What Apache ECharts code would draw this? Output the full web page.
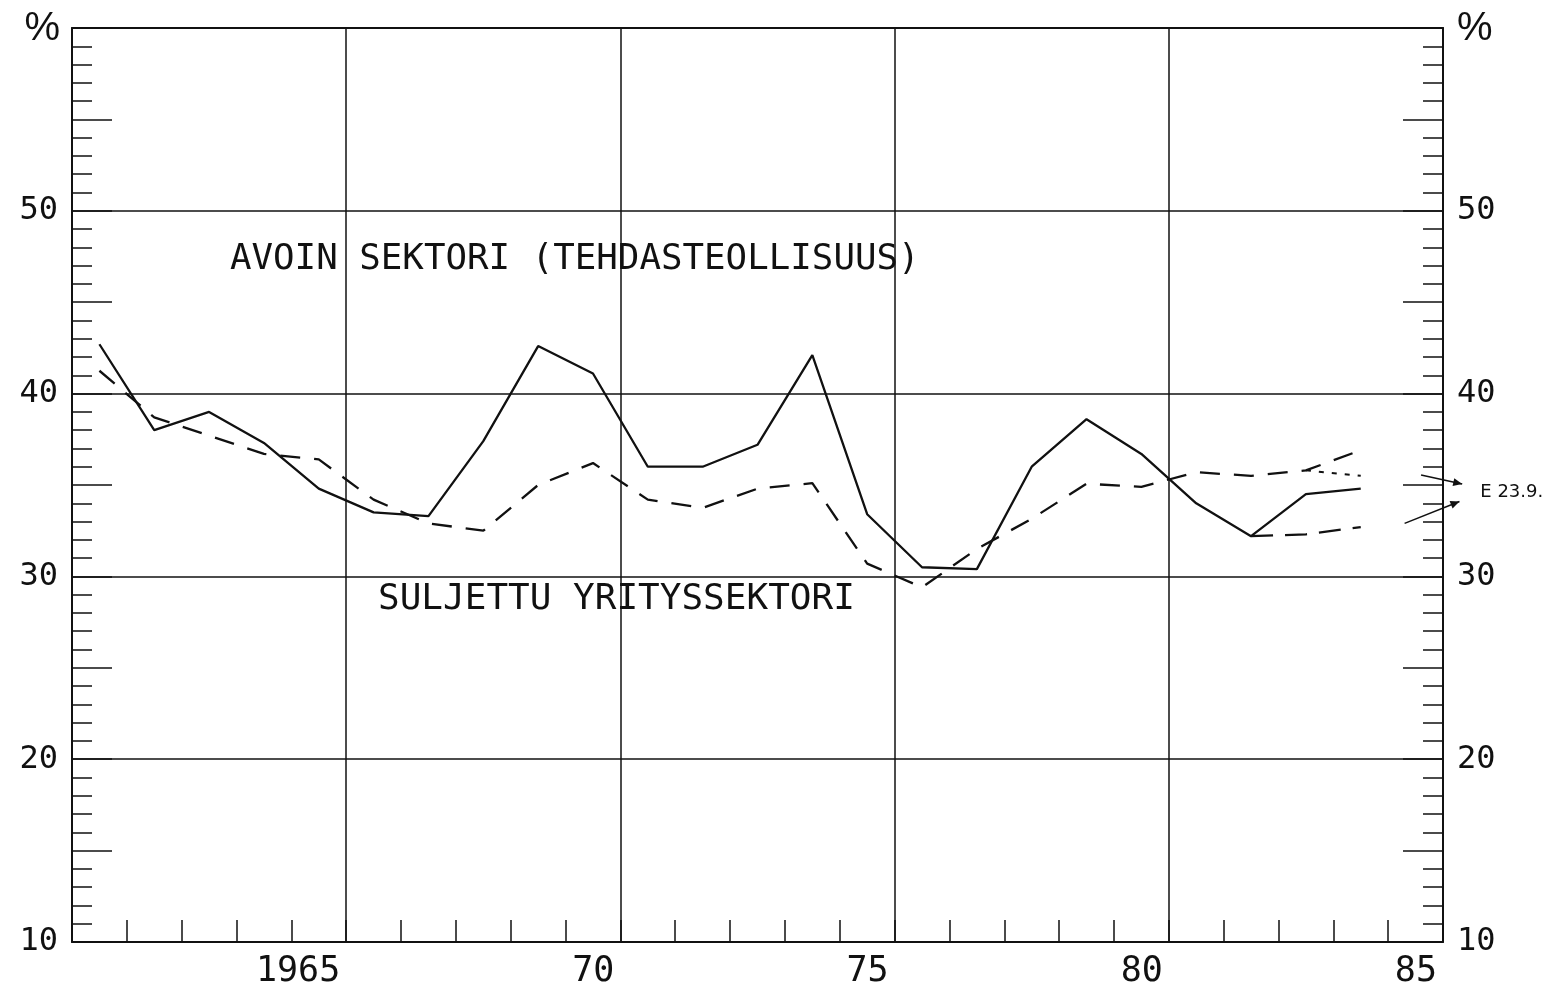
<!DOCTYPE html>
<html>
<head>
<meta charset="utf-8">
<script src="https://cdn.jsdelivr.net/npm/echarts@6/dist/echarts.min.js"></script>
<style>
html,body{margin:0;padding:0;background:#fff;}
#chart{width:1552px;height:989px;}
</style>
</head>
<body>
<div id="chart"></div>
<script>
// ---- data ----
const years = [1960.5,1961.5,1962.5,1963.5,1964.5,1965.5,1966.5,1967.5,1968.5,1969.5,1970.5,1971.5,
               1972.5,1973.5,1974.5,1975.5,1976.5,1977.5,1978.5,1979.5,1980.5,1981.5,1982.5,1983.5];
// Avoin sektori (tehdasteollisuus) - solid line
const avoin = [42.7,38.0,39.0,37.3,34.8,33.5,33.3,37.4,42.6,41.1,36.0,36.0,
               37.2,42.1,33.4,30.5,30.4,36.0,38.6,36.7,34.0,32.2,34.5,34.8];
// Suljettu yrityssektori - dashed line
const suljettu = [41.25,38.7,37.7,36.7,36.4,34.2,32.9,32.5,35.0,36.2,34.2,33.75,
                  34.8,35.1,30.7,29.4,31.5,33.15,35.07,34.9,35.7,35.5,35.8,36.9];
// dotted branch (end of the closed sector)
const suljettuDotted = [null,null,null,null,null,null,null,null,null,null,null,null,
                        null,null,null,null,null,null,null,null,null,null,35.8,35.5];
// lower dashed branch
const suljettuLow = [null,null,null,null,null,null,null,null,null,null,null,null,
                     null,null,null,null,null,null,null,null,null,32.2,32.3,32.7];
const xLabels = {1965:'1965',1970:'70',1975:'75',1980:'80',1985:'85'};
const yLabels = {10:'10',20:'20',30:'30',40:'40',50:'50'};
const unitLabel = '%';
const textAvoin = 'AVOIN SEKTORI (TEHDASTEOLLISUUS)';
const textSuljettu = 'SULJETTU YRITYSSEKTORI';
const noteText = 'E 23.9.';

function pairs(arr){
  const out = [];
  arr.forEach((v,i)=>{ if(v!==null) out.push([years[i], v]); });
  return out;
}

const INK = '#111';
const mono = 'DejaVu Sans Mono';

const chart = echarts.init(document.getElementById('chart'), null, {renderer:'canvas'});

const yMain = (pos, split) => ({
  type:'value', position:pos, min:10, max:60, interval:10,
  axisLine:{show:true, lineStyle:{color:INK, width:2}},
  axisTick:{show:true, inside:true, length:40, lineStyle:{color:INK, width:1.5}},
  minorTick:{show:true, splitNumber:10, length:20, lineStyle:{color:INK, width:1.5}},
  axisLabel:{show:true, margin:14, fontFamily:mono, fontSize:32, color:INK,
    formatter:v => yLabels[v] || ''},
  splitLine:{show:split, lineStyle:{color:INK, width:1.5}},
  minorSplitLine:{show:false}
});
const yFive = (pos) => ({
  type:'value', position:pos, min:10, max:60, interval:5,
  axisLine:{show:false},
  axisTick:{show:true, inside:true, length:40, lineStyle:{color:INK, width:1.5}},
  axisLabel:{show:false}, splitLine:{show:false}
});

const option = {
  backgroundColor:'#fff',
  animation:false,
  grid:{left:72, right:109, top:28, bottom:46, containLabel:false},
  xAxis:[
    {type:'value', position:'bottom', min:1960, max:1985, interval:1,
     axisLine:{show:true, lineStyle:{color:INK, width:2}},
     axisTick:{show:true, inside:true, length:22, lineStyle:{color:INK, width:1.5}},
     axisLabel:{show:true, margin:12, fontFamily:mono, fontSize:35, color:INK,
       align:'right', padding:[0,6,0,0], formatter:v => xLabels[v] || ''},
     splitLine:{show:false}},
    {type:'value', position:'top', min:1960, max:1985, interval:5,
     axisLine:{show:true, lineStyle:{color:INK, width:2}},
     axisTick:{show:false}, axisLabel:{show:false},
     splitLine:{show:true, lineStyle:{color:INK, width:1.5}}}
  ],
  yAxis:[ yMain('left', true), yFive('left'), yMain('right', false), yFive('right') ],
  series:[
    {name:'Avoin sektori', type:'line', xAxisIndex:0, yAxisIndex:0, data:pairs(avoin),
     symbol:'none', lineStyle:{color:INK, width:2.3, type:'solid'}},
    {name:'Suljettu yrityssektori', type:'line', xAxisIndex:0, yAxisIndex:0, data:pairs(suljettu),
     symbol:'none', lineStyle:{color:INK, width:2.3, type:[20,14]}},
    {name:'Suljettu (pisteviiva)', type:'line', xAxisIndex:0, yAxisIndex:0, data:pairs(suljettuDotted),
     symbol:'none', lineStyle:{color:INK, width:2, type:[5,8]}},
    {name:'Suljettu (alempi)', type:'line', xAxisIndex:0, yAxisIndex:0, data:pairs(suljettuLow),
     symbol:'none', lineStyle:{color:INK, width:2.3, type:[22,12]}}
  ]
};
chart.setOption(option);

// annotations placed through the axes' own scales
function px(x, y){ return chart.convertToPixel({xAxisIndex:0, yAxisIndex:0}, [x, y]); }
function arrow(from, to){
  const a = px(from[0], from[1]), b = px(to[0], to[1]);
  const ang = Math.atan2(b[1]-a[1], b[0]-a[0]);
  const L = 9, W = 4;
  const p1 = [b[0] - L*Math.cos(ang) + W*Math.sin(ang), b[1] - L*Math.sin(ang) - W*Math.cos(ang)];
  const p2 = [b[0] - L*Math.cos(ang) - W*Math.sin(ang), b[1] - L*Math.sin(ang) + W*Math.cos(ang)];
  return [
    {type:'line', shape:{x1:a[0], y1:a[1], x2:b[0], y2:b[1]}, style:{stroke:INK, lineWidth:1.5}},
    {type:'polygon', shape:{points:[b, p1, p2]}, style:{fill:INK}}
  ];
}
const pA = px(1962.88, 47.35);
const pS = px(1965.58, 28.75);
const pN = px(1985.68, 34.6);
const topL = px(1960, 60), topR = px(1985, 60);
const graphics = [
  {type:'text', x:pA[0], y:pA[1], style:{text:textAvoin, fontFamily:mono, fontSize:35.8, fill:INK,
    textAlign:'left', textVerticalAlign:'middle'}},
  {type:'text', x:pS[0], y:pS[1], style:{text:textSuljettu, fontFamily:mono, fontSize:36, fill:INK,
    textAlign:'left', textVerticalAlign:'middle'}},
  {type:'text', x:pN[0], y:pN[1], style:{text:noteText, fontFamily:'DejaVu Sans', fontSize:18, fill:INK,
    textAlign:'left', textVerticalAlign:'middle'}},
  {type:'text', x:topL[0]-12, y:topL[1]+1, style:{text:unitLabel, fontFamily:'Liberation Sans', fontSize:40, fill:INK,
    textAlign:'right', textVerticalAlign:'middle'}},
  {type:'text', x:topR[0]+14, y:topR[1]+1, style:{text:unitLabel, fontFamily:'Liberation Sans', fontSize:40, fill:INK,
    textAlign:'left', textVerticalAlign:'middle'}}
].concat(arrow([1984.6, 35.55], [1985.35, 35.05]))
 .concat(arrow([1984.3, 32.9], [1985.3, 34.1]));
chart.setOption({graphic:graphics});
</script>
</body>
</html>
